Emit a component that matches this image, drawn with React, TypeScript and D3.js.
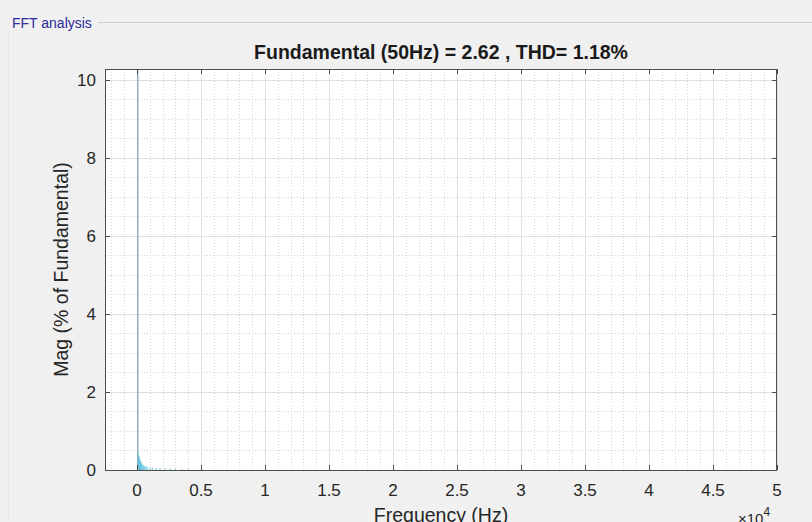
import React, { useEffect, useRef } from 'react';
import * as d3 from 'd3';

// harmonic spectrum (Hz, % of fundamental)
const harmonicFreq = [50, 100, 150, 200, 250, 300, 350, 400, 500, 600, 700, 800, 1000, 1200, 1500, 1800, 2200, 2600, 3000, 3500, 4000, 4500, 5000, 6000, 7000];
const harmonicMag = [100, 0.42, 0.36, 0.3, 0.25, 0.21, 0.18, 0.15, 0.12, 0.1, 0.09, 0.08, 0.07, 0.06, 0.05, 0.045, 0.04, 0.035, 0.03, 0.025, 0.02, 0.015, 0.012, 0.008, 0.005];

const xTicks = [0, 5000, 10000, 15000, 20000, 25000, 30000, 35000, 40000, 45000, 50000];
const yTicks = [0, 2, 4, 6, 8, 10];
const titleText = 'Fundamental (50Hz) = 2.62 , THD= 1.18%';

const App = () => {
  const svgRef = useRef<SVGSVGElement | null>(null);

  useEffect(() => {
    const svg = d3.select(svgRef.current);
    svg.selectAll('*').remove();

    const width = 812;
    const height = 522;
    const m = { left: 105, right: 777, top: 69, bottom: 470 };
    const font = 'Liberation Sans, Arial, Helvetica, sans-serif';
    const axisColor = '#4d4d4d';
    const textColor = '#262626';

    svg.append('rect').attr('width', width).attr('height', height).attr('fill', '#f0f0f0');

    // group box
    svg.append('line')
      .attr('x1', 98).attr('x2', width).attr('y1', 22.5).attr('y2', 22.5)
      .attr('stroke', '#d0d0d0');
    svg.append('line')
      .attr('x1', 8.5).attr('x2', 8.5).attr('y1', 30).attr('y2', 520)
      .attr('stroke', '#e6e6e6');
    svg.append('text')
      .attr('x', 12).attr('y', 28)
      .attr('font-family', font).attr('font-size', 14)
      .attr('fill', '#2b2b9a')
      .text('FFT analysis');

    const x = d3.scaleLinear().domain([-2500, 50000]).range([m.left, m.right]);
    const y = d3.scaleLinear().domain([0, 10.28]).range([m.bottom, m.top]);

    svg.append('rect')
      .attr('x', m.left).attr('y', m.top)
      .attr('width', m.right - m.left).attr('height', m.bottom - m.top)
      .attr('fill', '#ffffff');

    // minor grid
    const xMinor = d3.range(-2000, 50001, 1000).filter(v => v % 5000 !== 0);
    const yMinor = d3.range(0.5, 10.28, 0.5).filter(v => v % 2 !== 0);
    const grid = svg.append('g');
    grid.selectAll('.xm').data(xMinor).enter().append('line')
      .attr('x1', d => Math.round(x(d)) + 0.5).attr('x2', d => Math.round(x(d)) + 0.5)
      .attr('y1', m.top).attr('y2', m.bottom)
      .attr('stroke', '#d4d4d4').attr('stroke-dasharray', '1,2');
    grid.selectAll('.ym').data(yMinor).enter().append('line')
      .attr('y1', d => Math.round(y(d)) + 0.5).attr('y2', d => Math.round(y(d)) + 0.5)
      .attr('x1', m.left).attr('x2', m.right)
      .attr('stroke', '#d4d4d4').attr('stroke-dasharray', '1,2');
    // major grid
    grid.selectAll('.xg').data(xTicks).enter().append('line')
      .attr('x1', d => Math.round(x(d)) + 0.5).attr('x2', d => Math.round(x(d)) + 0.5)
      .attr('y1', m.top).attr('y2', m.bottom)
      .attr('stroke', '#e0e0e0');
    grid.selectAll('.yg').data(yTicks).enter().append('line')
      .attr('y1', d => Math.round(y(d)) + 0.5).attr('y2', d => Math.round(y(d)) + 0.5)
      .attr('x1', m.left).attr('x2', m.right)
      .attr('stroke', '#e0e0e0');

    // spectrum bars
    svg.append('clipPath').attr('id', 'plotclip')
      .append('rect').attr('x', m.left).attr('y', m.top)
      .attr('width', m.right - m.left).attr('height', m.bottom - m.top);
    const bars = harmonicFreq.map((f, i) => ({ f, v: harmonicMag[i] }));
    svg.append('g').attr('clip-path', 'url(#plotclip)')
      .selectAll('rect').data(bars).enter().append('rect')
      .attr('x', d => x(d.f) - 0.6)
      .attr('width', d => (d.f === 50 ? 1.4 : Math.max(1.2, x(d.f + 50) - x(d.f))))
      .attr('y', d => y(d.v))
      .attr('height', d => m.bottom - y(d.v))
      .attr('fill', d => (d.f === 50 ? '#7fa3b8' : '#5cc0dc'))
      .attr('opacity', d => (d.f === 50 ? 0.9 : 0.8));

    // box + ticks
    const tl = 5;
    const box = svg.append('g').attr('stroke', axisColor).attr('stroke-width', 1).attr('fill', 'none');
    box.append('rect')
      .attr('x', m.left + 0.5).attr('y', m.top + 0.5)
      .attr('width', m.right - m.left - 1).attr('height', m.bottom - m.top);
    xTicks.forEach(t => {
      const px = Math.round(x(t)) + 0.5;
      box.append('line').attr('x1', px).attr('x2', px).attr('y1', m.bottom).attr('y2', m.bottom - tl);
      box.append('line').attr('x1', px).attr('x2', px).attr('y1', m.top).attr('y2', m.top + tl);
    });
    yTicks.forEach(t => {
      const py = Math.round(y(t)) + 0.5;
      box.append('line').attr('x1', m.left).attr('x2', m.left + tl).attr('y1', py).attr('y2', py);
      box.append('line').attr('x1', m.right).attr('x2', m.right - tl).attr('y1', py).attr('y2', py);
    });

    // tick labels
    svg.append('g').selectAll('text').data(xTicks).enter().append('text')
      .attr('x', d => x(d)).attr('y', 496)
      .attr('text-anchor', 'middle')
      .attr('font-family', font).attr('font-size', 17).attr('fill', textColor)
      .text(d => d3.format('~g')(d / 10000));
    svg.append('g').selectAll('text').data(yTicks).enter().append('text')
      .attr('x', 96).attr('y', d => y(d)).attr('dy', '0.35em')
      .attr('text-anchor', 'end')
      .attr('font-family', font).attr('font-size', 17).attr('fill', textColor)
      .text(d => String(d));

    // exponent
    const ex = svg.append('text')
      .attr('x', 738).attr('y', 524)
      .attr('font-family', font).attr('font-size', 15).attr('fill', textColor);
    ex.append('tspan').text('\u00d710');
    ex.append('tspan').attr('dy', -8).attr('font-size', 12).text('4');

    // axis labels
    svg.append('text')
      .attr('x', (m.left + m.right) / 2).attr('y', 522)
      .attr('text-anchor', 'middle')
      .attr('font-family', font).attr('font-size', 19.5).attr('fill', textColor)
      .text('Frequency (Hz)');
    svg.append('text')
      .attr('transform', `translate(68, ${(m.top + m.bottom) / 2}) rotate(-90)`)
      .attr('text-anchor', 'middle')
      .attr('font-family', font).attr('font-size', 19.5).attr('fill', textColor)
      .text('Mag (% of Fundamental)');

    // title
    svg.append('text')
      .attr('x', (m.left + m.right) / 2).attr('y', 59)
      .attr('text-anchor', 'middle')
      .attr('font-family', font).attr('font-size', 19.5).attr('font-weight', 'bold')
      .attr('fill', '#1a1a1a')
      .text(titleText);
  }, []);

  return (
    <svg ref={svgRef} width={812} height={522}
      style={{ position: 'absolute', left: 0, top: 0, display: 'block' }} />
  );
};

export default App;
